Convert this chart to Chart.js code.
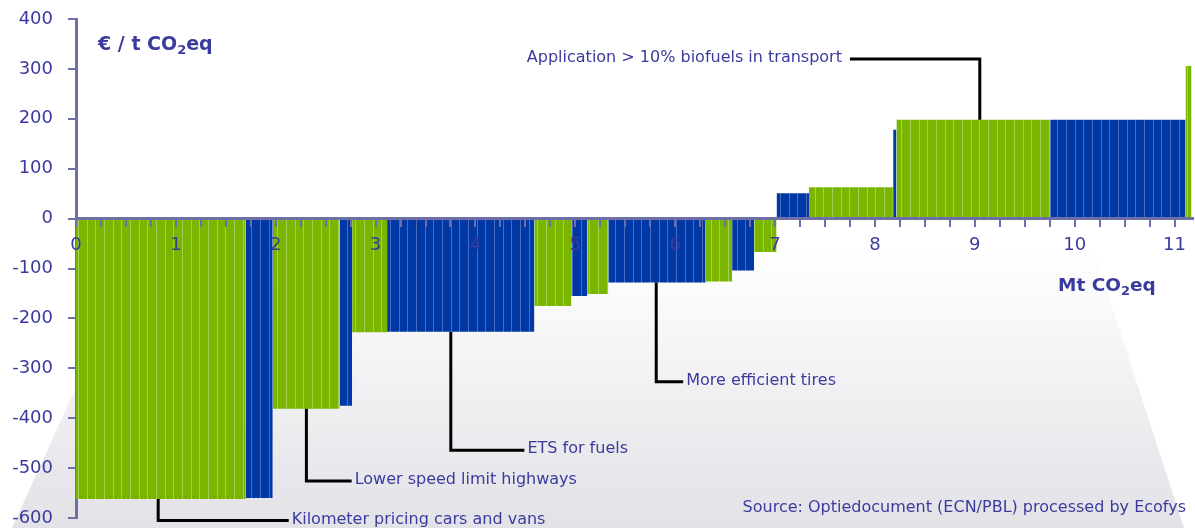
<!DOCTYPE html>
<html>
<head>
<meta charset="utf-8">
<script src="https://cdn.jsdelivr.net/npm/chart.js@4.4.1/dist/chart.umd.min.js"></script>
<style>
  html, body { margin: 0; padding: 0; background: #fff; }
  canvas { display: block; }
</style>
</head>
<body>
<canvas id="macc" width="1195" height="528"></canvas>
<script>
// measures from left to right: width in Mt CO2eq, cost in € / t CO2eq
const widths = [1.70, 0.27, 0.67, 0.125, 0.35, 1.475, 0.37, 0.16, 0.21, 0.975, 0.265, 0.22, 0.225, 0.325, 0.84, 0.035, 1.54, 1.355, 0.06]
const costs = [-562, -560, -381, -375, -228, -227, -175, -155, -151, -128, -126, -104, -67, 51, 63, 178, 198, 198, 306]
const kinds = ['g', 'b', 'g', 'b', 'g', 'b', 'g', 'b', 'g', 'b', 'g', 'b', 'g', 'b', 'g', 'b', 'g', 'b', 'g']

const xLabels = [0, 1, 2, 3, 4, 5, 6, 7, 8, 9, 10, 11]
const yLabels = [-600, -500, -400, -300, -200, -100, 0, 100, 200, 300, 400]

// leader lines: from a bar edge (x, cost) to elbow y, then to endX
const noteTexts = ['Kilometer pricing cars and vans', 'Lower speed limit highways', 'ETS for fuels', 'More efficient tires', 'Application > 10% biofuels in transport']
const noteBars = [0, 2, 5, 9, 16]
const noteX = [0.823, 2.307, 3.753, 5.81, 9.05]
const noteElbow = [-605, -526, -464, -327, 320]
const noteEnd = [2.13, 2.76, 4.49, 6.08, 7.75]

const TEXT = '#3b3b9e'
const AXIS = '#6f6fa8'
const FONT = '"DejaVu Sans", Verdana, sans-serif'

const canvas = document.getElementById('macc')
const ctx = canvas.getContext('2d')

function stripes(base, line) {
  const c = document.createElement('canvas')
  c.width = 26
  c.height = 4
  const g = c.getContext('2d')
  g.fillStyle = base
  g.fillRect(0, 0, 26, 4)
  g.fillStyle = line
  ;[0, 9, 17].forEach(x => g.fillRect(x, 0, 1, 4))
  return ctx.createPattern(c, 'repeat')
}

const fills = {
  g: stripes('#7ab600', '#a3cf55'),
  b: stripes('#0038a5', '#4a6cc0')
}

// one filled step per measure
let start = 0
const datasets = widths.map((w, i) => {
  const x0 = start
  const x1 = start + w
  start = x1
  return {
    data: [{x: x0, y: 0}, {x: x0, y: costs[i]}, {x: x1, y: costs[i]}, {x: x1, y: 0}],
    backgroundColor: fills[kinds[i]],
    borderWidth: 0,
    pointRadius: 0,
    fill: 'origin',
    tension: 0
  }
})

const backdrop = {
  id: 'backdrop',
  beforeDraw(chart) {
    const c = chart.ctx
    c.save()
    c.fillStyle = '#fff'
    c.fillRect(0, 0, chart.width, chart.height)
    const grad = c.createLinearGradient(0, 250, 0, 528)
    grad.addColorStop(0, 'rgba(226,226,231,0)')
    grad.addColorStop(1, 'rgba(226,226,231,1)')
    c.fillStyle = grad
    c.beginPath()
    c.moveTo(12, 528)
    c.lineTo(152, 220)
    c.lineTo(1084, 220)
    c.lineTo(1184, 528)
    c.closePath()
    c.fill()
    c.restore()
  }
}

function subText(c, parts, x, y, size) {
  // parts: [normal, sub, normal]
  c.font = 'bold ' + size + 'px ' + FONT
  c.fillText(parts[0], x, y)
  x += c.measureText(parts[0]).width
  c.font = 'bold ' + Math.round(size * 0.68) + 'px ' + FONT
  c.fillText(parts[1], x, y + size * 0.28)
  x += c.measureText(parts[1]).width
  c.font = 'bold ' + size + 'px ' + FONT
  c.fillText(parts[2], x, y)
}

const notes = {
  id: 'notes',
  afterDraw(chart) {
    const c = chart.ctx
    const sx = chart.scales.x
    const sy = chart.scales.y
    c.save()
    c.strokeStyle = '#000'
    c.lineWidth = 3
    c.fillStyle = TEXT
    c.font = '16px ' + FONT
    c.textBaseline = 'middle'
    noteTexts.forEach((t, i) => {
      const px = sx.getPixelForValue(noteX[i])
      const py0 = sy.getPixelForValue(costs[noteBars[i]])
      const py1 = sy.getPixelForValue(noteElbow[i])
      const pe = sx.getPixelForValue(noteEnd[i])
      c.beginPath()
      c.moveTo(px, py0)
      c.lineTo(px, py1)
      c.lineTo(pe, py1)
      c.stroke()
      if (pe > px) {
        c.textAlign = 'left'
        c.fillText(t, pe + 3, py1 - 1)
      } else {
        c.textAlign = 'right'
        c.fillText(t, pe - 8, py1 - 1)
      }
    })

    c.textAlign = 'left'
    subText(c, ['€ / t CO', '2', 'eq'], 98, 45, 19)
    subText(c, ['Mt CO', '2', 'eq'], 1058, 286, 18.5)

    c.font = '16px ' + FONT
    c.textAlign = 'right'
    c.fillStyle = TEXT
    c.fillText('Source: Optiedocument (ECN/PBL) processed by Ecofys', 1186, 508)
    c.restore()
  }
}

new Chart(canvas, {
  type: 'line',
  data: { datasets: datasets },
  options: {
    responsive: false,
    animation: false,
    devicePixelRatio: 1,
    layout: { padding: { top: 19, bottom: 10, left: 0, right: 1 } },
    plugins: {
      legend: { display: false },
      tooltip: { enabled: false }
    },
    scales: {
      x: {
        type: 'linear',
        position: { y: 0 },
        min: 0,
        max: 11.18,
        afterFit: s => { s.height = 0 },
        afterBuildTicks: s => { s.ticks = s.ticks.filter(t => Math.abs(t.value * 4 - Math.round(t.value * 4)) < 1e-6) },
        border: { color: AXIS, width: 3, z: 1 },
        grid: { drawOnChartArea: false, color: AXIS, lineWidth: 2, tickLength: 7, z: 1 },
        ticks: {
          z: 1,
          stepSize: 0.25,
          includeBounds: false,
          autoSkip: false,
          maxRotation: 0,
          padding: 9,
          color: TEXT,
          font: { family: FONT, size: 18 },
          callback: v => xLabels.includes(v) ? String(v) : ''
        }
      },
      y: {
        min: -600,
        max: 400,
        afterFit: s => { s.width = 76; s.paddingTop = 0; s.paddingBottom = 0 },
        afterBuildTicks: s => { s.ticks = yLabels.map(v => ({value: v})) },
        border: { color: AXIS, width: 3 },
        grid: { drawOnChartArea: false, color: AXIS, lineWidth: 2, tickLength: 8 },
        ticks: {
          padding: 15,
          color: TEXT,
          font: { family: FONT, size: 18 }
        }
      }
    }
  },
  plugins: [backdrop, notes]
})
</script>
</body>
</html>
